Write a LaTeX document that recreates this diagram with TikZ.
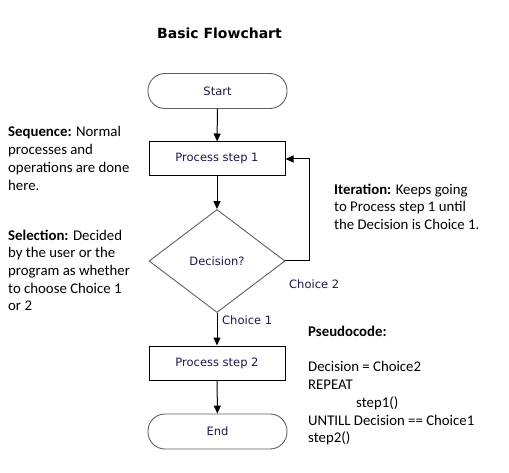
\documentclass[tikz,border=0pt]{standalone}
\usepackage{fontspec}
\setmainfont{Carlito}
\newfontfamily\flowfont{DejaVu Sans}
\usetikzlibrary{shapes.geometric,arrows.meta}
\definecolor{nodetext}{RGB}{25,25,70}
\definecolor{softline}{RGB}{95,95,95}
\tikzset{
  flowlabel/.style={font=\flowfont\fontsize{11.5pt}{13pt}\selectfont, text=nodetext},
  termbox/.style={flowlabel, draw=softline, line width=0.9pt, rounded corners=17pt, minimum width=139pt, minimum height=35pt, inner sep=0pt},
  procbox/.style={flowlabel, draw=black, line width=1pt, minimum width=136pt, minimum height=34pt, inner sep=0pt},
  decbox/.style={flowlabel, draw=softline, line width=0.9pt, diamond, minimum width=136pt, minimum height=103pt, inner sep=0pt},
  flowarrow/.style={draw=black, line width=1pt, -{Triangle[length=8pt,width=7pt]}},
  note/.style={font=\fontsize{14.8pt}{17.7pt}\selectfont, align=left, anchor=north west, inner sep=0pt, text=black},
  choicelabel/.style={flowlabel, anchor=west, inner sep=0pt}
}
\begin{document}
\begin{tikzpicture}[x=1pt,y=-1pt]
\useasboundingbox (0,0) rectangle (509,473);
\node[font=\flowfont\bfseries\fontsize{14pt}{16pt}\selectfont, text=black] (title) at (219.5,33.5) {Basic Flowchart};
\node[termbox] (start) at (217.5,91) {Start};
\node[procbox] (p1) at (217,159) {Process step 1};
\node[decbox] (dec) at (217,261) {Decision?};
\node[procbox] (p2) at (217,363) {Process step 2};
\node[termbox] (end) at (217.5,431.5) {End};
\coordinate (loop) at (309,261);
\draw[flowarrow] (start) -- (p1);
\draw[flowarrow] (p1) -- (dec);
\draw[flowarrow] (dec) -- (p2);
\draw[flowarrow] (p2) -- (end);
\draw[flowarrow] (dec.east) -- (loop) |- (p1.east);
\node[choicelabel] (c2) at (289,284) {Choice 2};
\node[choicelabel] (c1) at (222,320) {Choice 1};
\node[note] (seq) at (8,126.5) {\textbf{Sequence:} Normal\\processes and\\operations are done\\here.};
\node[note] (sel) at (8,229.5) {\textbf{Selection:} Decided\\by the user or the\\program as whether\\to choose Choice 1\\or 2};
\node[note] (iter) at (334,183.5) {\textbf{Iteration:} Keeps going\\to Process step 1 until\\the Decision is Choice 1.};
\node[note] (pseudo) at (308,326) {\textbf{Pseudocode:}\\[17.7pt]Decision = Choice2\\REPEAT\\\hspace*{48pt}step1()\\UNTILL Decision == Choice1\\step2()};
\end{tikzpicture}
\end{document}
